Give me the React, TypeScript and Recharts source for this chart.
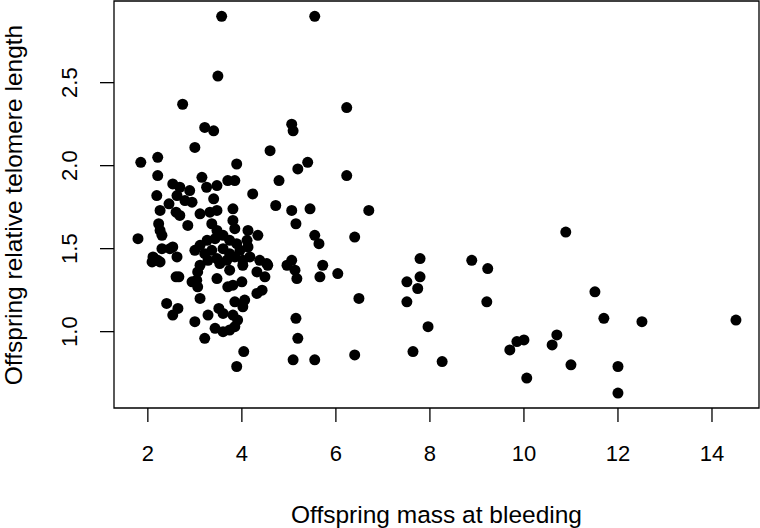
import { ScatterChart, Scatter, XAxis, YAxis, ReferenceArea } from 'recharts';

// offspring mass (x) vs relative telomere length (y)
const upperPoints: [number, number][] = [
  [3.57, 2.9], [5.55, 2.9], [3.49, 2.54], [2.74, 2.37], [6.23, 2.35], [5.06, 2.25], [5.09, 2.21],
  [3.21, 2.23], [3.4, 2.21], [3.0, 2.11], [4.6, 2.09], [1.85, 2.02], [2.21, 2.05], [3.89, 2.01],
  [5.4, 2.02], [5.19, 1.98], [6.23, 1.94], [2.21, 1.94], [3.15, 1.93], [3.7, 1.91], [3.85, 1.91],
  [4.79, 1.91], [4.23, 1.83], [4.72, 1.76], [5.06, 1.73], [5.45, 1.74], [6.7, 1.73],
];

const clusterPoints: [number, number][] = [
  [2.53, 1.89], [2.68, 1.87], [2.89, 1.85], [3.25, 1.87], [3.47, 1.88], [2.19, 1.82], [2.62, 1.82],
  [2.79, 1.79], [2.94, 1.78], [3.4, 1.8], [2.45, 1.77], [2.26, 1.73], [2.6, 1.72], [2.68, 1.7],
  [3.11, 1.71], [3.32, 1.72], [3.47, 1.73], [3.81, 1.74], [2.23, 1.65], [2.85, 1.64], [3.36, 1.65],
  [3.81, 1.67], [2.26, 1.61], [2.3, 1.58], [1.79, 1.56], [3.47, 1.61], [3.85, 1.62], [4.13, 1.61],
  [4.34, 1.58], [3.26, 1.55], [3.43, 1.56], [3.6, 1.58], [3.74, 1.55], [3.89, 1.53], [4.11, 1.55],
  [2.3, 1.5], [2.53, 1.51], [3.11, 1.52], [3.36, 1.49], [3.6, 1.5], [3.74, 1.47], [3.96, 1.49],
  [4.13, 1.51], [2.11, 1.45], [2.21, 1.43], [2.47, 1.5], [2.62, 1.45], [3.0, 1.49], [3.21, 1.47],
  [3.28, 1.43], [3.47, 1.44], [3.68, 1.43], [3.85, 1.45], [4.02, 1.43], [4.17, 1.45], [4.38, 1.43],
  [4.53, 1.41],
];

const lowerPoints: [number, number][] = [
  [2.09, 1.42], [2.26, 1.42], [2.6, 1.33], [2.66, 1.33], [2.94, 1.3], [3.04, 1.31], [3.06, 1.27],
  [3.11, 1.4], [3.06, 1.36], [3.47, 1.32], [3.53, 1.41], [3.74, 1.37], [3.7, 1.27], [3.81, 1.28],
  [4.0, 1.3], [4.02, 1.4], [4.32, 1.36], [4.49, 1.33], [4.32, 1.23], [4.43, 1.25], [4.55, 1.4],
  [3.11, 1.2], [3.85, 1.18], [4.06, 1.19], [4.02, 1.15], [2.4, 1.17], [2.64, 1.14], [2.53, 1.1],
  [3.0, 1.06], [3.28, 1.1], [3.51, 1.14], [3.6, 1.11], [3.81, 1.1], [3.91, 1.07], [3.85, 1.03],
  [3.43, 1.02], [3.6, 1.0], [3.74, 1.01], [3.21, 0.96], [4.04, 0.88], [3.89, 0.79],
];

const middlePoints: [number, number][] = [
  [5.15, 1.65], [5.55, 1.58], [5.64, 1.53], [6.4, 1.57], [4.96, 1.4], [5.06, 1.43], [5.13, 1.37],
  [5.17, 1.32], [5.72, 1.4], [5.66, 1.33], [6.04, 1.35], [6.49, 1.2], [5.15, 1.08], [5.19, 0.96],
  [5.09, 0.83], [5.55, 0.83], [6.4, 0.86],
];

const rightPoints: [number, number][] = [
  [7.79, 1.44], [7.51, 1.3], [7.79, 1.33], [7.74, 1.26], [7.51, 1.18], [7.96, 1.03], [7.64, 0.88],
  [8.26, 0.82], [8.89, 1.43], [9.23, 1.38], [9.21, 1.18], [9.7, 0.89], [9.85, 0.94], [10.0, 0.95],
  [10.06, 0.72], [10.7, 0.98], [10.6, 0.92], [11.0, 0.8], [10.89, 1.6], [11.51, 1.24], [11.7, 1.08],
  [12.51, 1.06], [12.0, 0.79], [12.0, 0.63], [14.51, 1.07],
];

const xTicks = [2, 4, 6, 8, 10, 12, 14];
const yTicks = [1.0, 1.5, 2.0, 2.5];
const xDomain: [number, number] = [1.28, 15.0];
const yDomain: [number, number] = [0.54, 2.992];

const data = [...upperPoints, ...clusterPoints, ...lowerPoints, ...middlePoints, ...rightPoints].map(
  ([mass, telomere]) => ({ mass, telomere })
);

const FONT = '"Liberation Sans", Arial, sans-serif';

const Dot = (props: any) => <circle cx={props.cx} cy={props.cy} r={5.5} fill="#000" />;

const XTick = ({ x, payload }: any) => (
  <text x={x} y={453} textAnchor="middle" dominantBaseline="central" fontSize={22} fontFamily={FONT} fill="#000">
    {payload.value}
  </text>
);

const YTick = ({ y, payload }: any) => (
  <text
    x={70}
    y={y}
    transform={`rotate(-90, 70, ${y})`}
    textAnchor="middle"
    dominantBaseline="central"
    fontSize={22}
    fontFamily={FONT}
    fill="#000"
  >
    {Number(payload.value).toFixed(1)}
  </text>
);

const App = () => {
  return (
    <div style={{ position: 'absolute', left: 0, top: 0, width: 760, height: 528, background: '#fff' }}>
      <ScatterChart width={760} height={528} margin={{ top: 1, right: 1, bottom: 0, left: 0 }}>
        <XAxis
          type="number"
          dataKey="mass"
          domain={xDomain}
          ticks={xTicks}
          allowDataOverflow
          axisLine={false}
          tickSize={14}
          tickLine={{ stroke: '#000', strokeWidth: 1.3 }}
          tick={<XTick />}
          height={120}
        />
        <YAxis
          type="number"
          dataKey="telomere"
          domain={yDomain}
          ticks={yTicks}
          allowDataOverflow
          axisLine={false}
          tickSize={14}
          tickLine={{ stroke: '#000', strokeWidth: 1.3 }}
          tick={<YTick />}
          width={114}
        />
        <ReferenceArea
          x1={xDomain[0]}
          x2={xDomain[1]}
          y1={yDomain[0]}
          y2={yDomain[1]}
          fill="none"
          stroke="#000"
          strokeWidth={1.3}
          fillOpacity={0}
        />
        <Scatter data={data} shape={<Dot />} isAnimationActive={false} />
      </ScatterChart>
      <div
        style={{
          position: 'absolute',
          left: 114,
          width: 645,
          top: 500,
          textAlign: 'center',
          fontFamily: FONT,
          fontSize: 24.5,
          lineHeight: '30px',
          color: '#000',
        }}
      >
        Offspring mass at bleeding
      </div>
      <div
        style={{
          position: 'absolute',
          left: 14,
          top: 205,
          transform: 'translate(-50%, -50%) rotate(-90deg)',
          whiteSpace: 'nowrap',
          fontFamily: FONT,
          fontSize: 24.5,
          lineHeight: '30px',
          color: '#000',
        }}
      >
        Offspring relative telomere length
      </div>
    </div>
  );
};

export default App;
